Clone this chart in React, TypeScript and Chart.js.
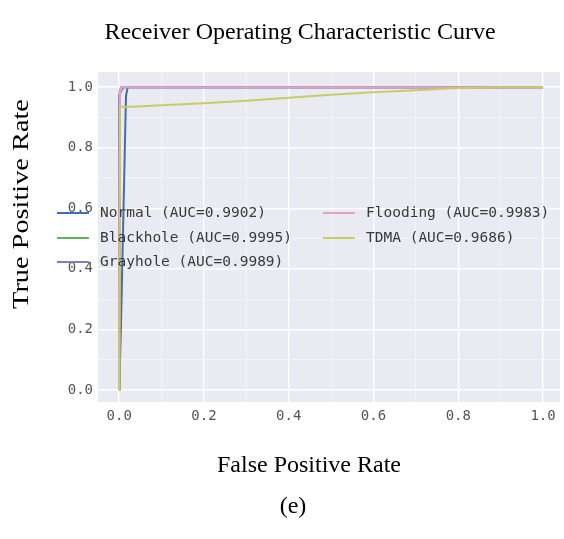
import React, { useEffect, useRef } from "react";
import { Chart, registerables } from "chart.js";

Chart.register(...registerables);

// ---- data ----
const classNames = ["Normal", "Blackhole", "Grayhole", "Flooding", "TDMA"];
const aucValues = [0.9902, 0.9995, 0.9989, 0.9983, 0.9686];
const lineColors = ["#3f6fb0", "#5fb35f", "#8a78b8", "#e6a0c8", "#c9cc66"];

const fprNormal = [0, 0.004, 0.016, 0.02, 1];
const tprNormal = [0, 0.2, 0.97, 1.0, 1.0];
const fprBlackhole = [0, 0.001, 0.005, 1];
const tprBlackhole = [0, 0.99, 1.0, 1.0];
const fprGrayhole = [0, 0.0, 0.01, 1];
const tprGrayhole = [0, 0.975, 1.0, 1.0];
const fprFlooding = [0, 0.002, 0.004, 1];
const tprFlooding = [0, 0.99, 1.0, 1.0];
const fprTDMA = [0, 0.002, 0.03, 0.1, 0.2, 0.3, 0.4, 0.5, 0.6, 0.7, 0.8, 0.9, 1.0];
const tprTDMA = [0, 0.935, 0.935, 0.94, 0.947, 0.955, 0.965, 0.975, 0.983, 0.99, 0.997, 1.0, 1.0];

const fprList = [fprNormal, fprBlackhole, fprGrayhole, fprFlooding, fprTDMA];
const tprList = [tprNormal, tprBlackhole, tprGrayhole, tprFlooding, tprTDMA];

const xTickValues = [0, 0.1, 0.2, 0.3, 0.4, 0.5, 0.6, 0.7, 0.8, 0.9, 1.0];
const yTickValues = [0, 0.1, 0.2, 0.3, 0.4, 0.5, 0.6, 0.7, 0.8, 0.9, 1.0];

const titleText = "Receiver Operating Characteristic Curve";
const xLabelText = "False Positive Rate";
const yLabelText = "True Positive Rate";
const captionText = "(e)";

const SERIF = "'Liberation Serif', 'Times New Roman', serif";
const MONO = "'DejaVu Sans Mono', 'Liberation Mono', monospace";

const isMajor = (v: number) => Math.round(v * 10) % 2 === 0;

const bgPlugin = {
  id: "plotBg",
  beforeDraw(chart: any) {
    const { ctx, chartArea } = chart;
    ctx.save();
    ctx.fillStyle = "#eaeaf3";
    ctx.fillRect(chartArea.left, chartArea.top, chartArea.right - chartArea.left, chartArea.bottom - chartArea.top);
    ctx.restore();
  },
};

const textPlugin = {
  id: "figureText",
  afterDraw(chart: any) {
    const { ctx } = chart;
    ctx.save();
    ctx.fillStyle = "#000";
    ctx.textAlign = "center";
    ctx.textBaseline = "middle";
    ctx.font = `24px ${SERIF}`;
    ctx.fillText(titleText, 300, 33);
    ctx.fillText(xLabelText, 309, 466);
    ctx.fillText(captionText, 293, 507);
    ctx.translate(22, 204);
    ctx.rotate(-Math.PI / 2);
    ctx.scale(1.18, 1);
    ctx.fillText(yLabelText, 0, 0);
    ctx.restore();
  },
};

const legendPlugin = {
  id: "innerLegend",
  afterDatasetsDraw(chart: any) {
    const { ctx, chartArea } = chart;
    const ds = chart.data.datasets;
    const rows = 3;
    const colX = [chartArea.left - 41, chartArea.left + 225];
    const rowY = [213, 238, 262];
    ctx.save();
    ctx.font = `14.5px ${MONO}`;
    ctx.textBaseline = "middle";
    ctx.textAlign = "left";
    ds.forEach((d: any, i: number) => {
      const c = Math.floor(i / rows);
      const r = i % rows;
      const x = colX[c];
      const y = rowY[r];
      ctx.strokeStyle = d.borderColor;
      ctx.lineWidth = 2;
      ctx.beginPath();
      ctx.moveTo(x, y);
      ctx.lineTo(x + 32, y);
      ctx.stroke();
      ctx.fillStyle = "#3a3a3a";
      ctx.fillText(d.label, x + 43, y);
    });
    ctx.restore();
  },
};

export default function App() {
  const ref = useRef<HTMLCanvasElement | null>(null);

  useEffect(() => {
    document.body.style.margin = "0";
    if (!ref.current) return;
    const datasets = classNames.map((name, i) => ({
      label: `${name} (AUC=${aucValues[i].toFixed(4)})`,
      data: fprList[i].map((x, j) => ({ x, y: tprList[i][j] })),
      borderColor: lineColors[i],
      backgroundColor: lineColors[i],
      borderWidth: 2,
      pointRadius: 0,
      tension: 0,
      fill: false,
      order: classNames.length - i,
    }));
    const chart = new Chart(ref.current, {
      type: "line",
      data: { datasets },
      options: {
        responsive: false,
        animation: false,
        maintainAspectRatio: false,
        layout: { padding: { top: 72, right: 4, left: 0, bottom: 0 } },
        plugins: {
          legend: { display: false },
          tooltip: { enabled: false },
          title: { display: false },
        },
        scales: {
          x: {
            type: "linear",
            min: -0.05,
            max: 1.04,
            afterBuildTicks: (s: any) => {
              s.ticks = xTickValues.map((v) => ({ value: v }));
            },
            afterFit: (s: any) => {
              s.height = 137;
            },
            border: { display: false },
            grid: {
              drawTicks: false,
              color: (c: any) => (isMajor(c.tick.value) ? "#ffffff" : "rgba(255,255,255,0.55)"),
              lineWidth: (c: any) => (isMajor(c.tick.value) ? 1.4 : 0.8),
            },
            ticks: {
              padding: 6,
              autoSkip: false,
              maxRotation: 0,
              color: "#555",
              font: { family: MONO, size: 14 },
              callback: (v: any) => (isMajor(Number(v)) ? Number(v).toFixed(1) : ""),
            },
          },
          y: {
            type: "linear",
            min: -0.04,
            max: 1.05,
            afterBuildTicks: (s: any) => {
              s.ticks = yTickValues.map((v) => ({ value: v }));
            },
            afterFit: (s: any) => {
              s.width = 98;
            },
            border: { display: false },
            grid: {
              drawTicks: false,
              color: (c: any) => (isMajor(c.tick.value) ? "#ffffff" : "rgba(255,255,255,0.55)"),
              lineWidth: (c: any) => (isMajor(c.tick.value) ? 1.4 : 0.8),
            },
            ticks: {
              padding: 5,
              autoSkip: false,
              color: "#555",
              font: { family: MONO, size: 14 },
              callback: (v: any) => (isMajor(Number(v)) ? Number(v).toFixed(1) : ""),
            },
          },
        },
      },
      plugins: [bgPlugin, legendPlugin, textPlugin],
    });
    return () => chart.destroy();
  }, []);

  return <canvas ref={ref} width={564} height={539} style={{ display: "block", width: 564, height: 539 }} />;
}
